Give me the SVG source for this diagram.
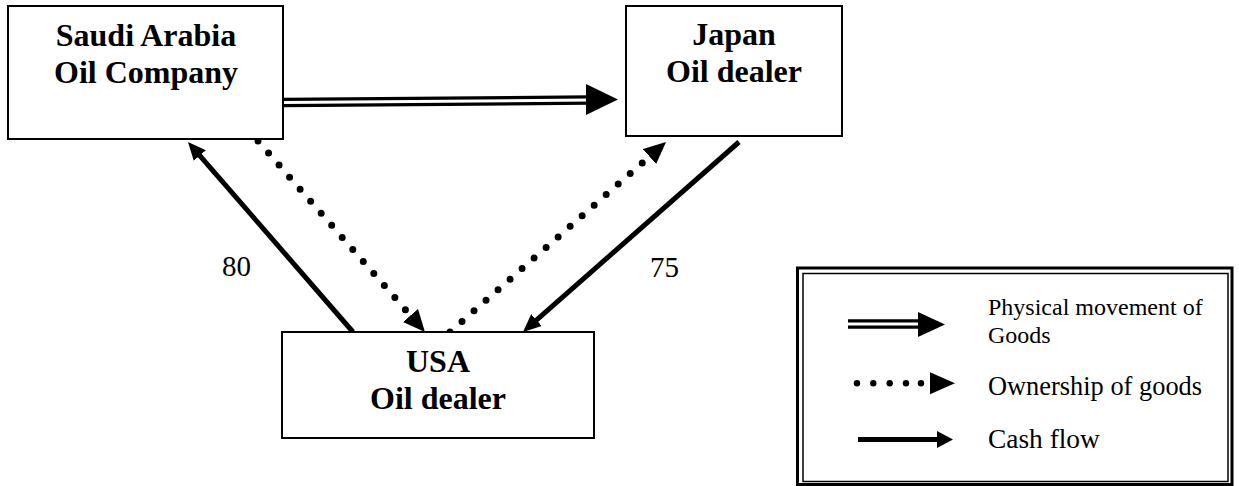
<svg xmlns="http://www.w3.org/2000/svg" width="1239" height="486" viewBox="0 0 1239 486">
<style>
.box{fill:#fff;stroke:#000;stroke-width:2}
.nt{font-family:"Liberation Serif","Times New Roman",serif;font-weight:bold;font-size:32px;text-anchor:middle;fill:#000}
.lbl{font-family:"Liberation Serif","Times New Roman",serif;font-size:29px;fill:#000}
.lg{font-family:"Liberation Serif","Times New Roman",serif;fill:#000}
.cash{stroke:#000;stroke-width:5;fill:none}
.dot{stroke:#000;stroke-width:7;stroke-linecap:round;stroke-dasharray:0 16;fill:none}
.dbl-o{stroke:#000;stroke-width:9.5;fill:none}
.dbl-i{stroke:#fff;stroke-width:3;fill:none}
.head{fill:#000}
</style>
<defs>
<marker id="mCash" markerUnits="userSpaceOnUse" viewBox="0 0 18 16" markerWidth="18" markerHeight="16" refX="2" refY="8" orient="auto">
<path d="M0,0 L18,8 L0,16 z" fill="#000"/>
</marker>
<marker id="mDot" markerUnits="userSpaceOnUse" viewBox="0 0 22 20" markerWidth="22" markerHeight="20" refX="2" refY="10" orient="auto">
<path d="M0,0 L22,10 L0,20 z" fill="#000"/>
</marker>
</defs>

<g id="connectors">
<!-- physical movement Saudi -> Japan -->
<g id="goods-saudi-japan">
<line class="dbl-o" x1="283" y1="102.5" x2="590" y2="100"/>
<line class="dbl-i" x1="283" y1="102.5" x2="590" y2="100"/>
<polygon class="head" points="586,84 618,99.5 586,115"/>
</g>
<!-- cash USA -> Saudi -->
<line id="cash-usa-saudi" class="cash" x1="353" y1="332" x2="198.5" y2="154.1" marker-end="url(#mCash)"/>
<!-- cash Japan -> USA -->
<line id="cash-japan-usa" class="cash" x1="739" y1="142" x2="535" y2="321.4" marker-end="url(#mCash)"/>
<!-- ownership Saudi -> USA -->
<line id="own-saudi-usa" class="dot" x1="258" y1="141" x2="411.8" y2="317" marker-end="url(#mDot)"/>
<!-- ownership USA -> Japan -->
<line id="own-usa-japan" class="dot" x1="450" y1="332" x2="651" y2="155.2" marker-end="url(#mDot)"/>
<text class="lbl" x="222" y="276">80</text>
<text class="lbl" x="650" y="277">75</text>
</g>

<g id="node-saudi">
<rect class="box" x="8" y="6" width="275" height="133"/>
<text class="nt" x="146" y="46">Saudi Arabia</text>
<text class="nt" x="146" y="83">Oil Company</text>
</g>

<g id="node-japan">
<rect class="box" x="626" y="6" width="216" height="130"/>
<text class="nt" x="734" y="45">Japan</text>
<text class="nt" x="734" y="82">Oil dealer</text>
</g>

<g id="node-usa">
<rect class="box" x="282" y="332" width="312" height="106"/>
<text class="nt" x="438" y="372">USA</text>
<text class="nt" x="438" y="409">Oil dealer</text>
</g>

<g id="legend">
<rect x="797.5" y="268" width="434.5" height="216.5" fill="#fff" stroke="#000" stroke-width="3"/>
<rect x="803" y="273.5" width="425" height="208" fill="none" stroke="#000" stroke-width="1.5"/>
<line class="dbl-o" x1="848" y1="324" x2="920" y2="324"/>
<line class="dbl-i" x1="848" y1="324" x2="920" y2="324"/>
<polygon class="head" points="918,312 945,324.5 918,337"/>
<text class="lg" x="988" y="315" font-size="24">Physical movement of</text>
<text class="lg" x="988" y="343" font-size="24">Goods</text>
<g fill="#000">
<circle cx="857" cy="383.3" r="3.2"/>
<circle cx="873.3" cy="383.3" r="3.2"/>
<circle cx="889.7" cy="383.3" r="3.2"/>
<circle cx="906" cy="383.3" r="3.2"/>
<circle cx="921" cy="383.3" r="3.2"/>
</g>
<polygon class="head" points="930,372.3 955,383.3 930,394.3"/>
<text class="lg" x="988" y="395" font-size="26.4">Ownership of goods</text>
<line x1="858" y1="439.5" x2="938" y2="439.5" stroke="#000" stroke-width="5"/>
<polygon class="head" points="937,431 953,439.5 937,448"/>
<text class="lg" x="988" y="448" font-size="27.4">Cash flow</text>
</g>
</svg>
